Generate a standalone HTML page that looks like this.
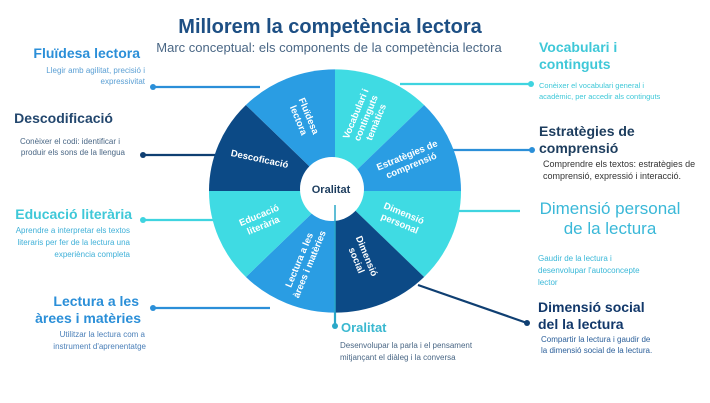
<!DOCTYPE html>
<html><head><meta charset="utf-8"><style>
body{margin:0;background:#fff;}
svg{display:block;font-family:"Liberation Sans",sans-serif;}
</style></head><body>
<svg width="710" height="403" viewBox="0 0 710 403" xmlns="http://www.w3.org/2000/svg">
<rect width="710" height="403" fill="#fff"/>
<text x="330" y="33" text-anchor="middle" font-size="20" font-weight="bold" fill="#1d4f84">Millorem la competència lectora</text>
<text x="329" y="52" text-anchor="middle" font-size="13" fill="#4a6785">Marc conceptual: els components de la competència lectora</text>

<g stroke-width="2.2">
<line x1="153" y1="87" x2="260" y2="87" stroke="#2b8fd8"/>
<line x1="143" y1="155" x2="230" y2="155" stroke="#0f3f72"/>
<line x1="143" y1="220" x2="215" y2="220" stroke="#3fd4e0"/>
<line x1="153" y1="308" x2="270" y2="308" stroke="#2b8fd8"/>
<line x1="400" y1="84" x2="531" y2="84" stroke="#3fd4e0"/>
<line x1="445" y1="150" x2="532" y2="150" stroke="#2b8fd8"/>
<line x1="455" y1="211" x2="520" y2="211" stroke="#3fd4e0"/>
<line x1="418" y1="285" x2="527" y2="323" stroke="#0f3f72"/>
<line x1="335" y1="190" x2="335" y2="326" stroke="#2aa8c8"/>
</g>
<circle cx="153" cy="87" r="3" fill="#2b8fd8"/>
<circle cx="143" cy="155" r="3" fill="#0f3f72"/>
<circle cx="143" cy="220" r="3" fill="#3fd4e0"/>
<circle cx="153" cy="308" r="3" fill="#2b8fd8"/>
<circle cx="531" cy="84" r="3" fill="#3fd4e0"/>
<circle cx="532" cy="150" r="3" fill="#2b8fd8"/>
<circle cx="527" cy="323" r="3" fill="#0f3f72"/>
<circle cx="335" cy="326" r="3" fill="#2aa8c8"/>

<g transform="translate(335 191) scale(1 0.965) translate(-335 -190)">
<path d="M335 190 L335 64 A126 126 0 0 1 424.1 100.9 Z" fill="#3fdbe3"/>
<path d="M335 190 L424.1 100.9 A126 126 0 0 1 461 190 Z" fill="#2a9de3"/>
<path d="M335 190 L461 190 A126 126 0 0 1 424.1 279.1 Z" fill="#3fdbe3"/>
<path d="M335 190 L424.1 279.1 A126 126 0 0 1 335 316 Z" fill="#0c4a86"/>
<path d="M335 190 L335 316 A126 126 0 0 1 245.9 279.1 Z" fill="#2a9de3"/>
<path d="M335 190 L245.9 279.1 A126 126 0 0 1 209 190 Z" fill="#3fdbe3"/>
<path d="M335 190 L209 190 A126 126 0 0 1 245.9 100.9 Z" fill="#0c4a86"/>
<path d="M335 190 L245.9 100.9 A126 126 0 0 1 335 64 Z" fill="#2a9de3"/>
</g>
<circle cx="332" cy="189" r="32" fill="#fff"/>
<line x1="335" y1="205" x2="335" y2="313" stroke="#2aa8c8" stroke-width="1.5"/>
<text x="331" y="193" text-anchor="middle" font-size="11" font-weight="bold" fill="#1d3d5e">Oralitat</text>

<g fill="#fff" font-size="9.5" font-weight="bold" text-anchor="middle">
<text transform="translate(304,118) rotate(67.5)"><tspan x="0" y="-2">Fluïdesa</tspan><tspan x="0" y="9">lectora</tspan></text>
<text transform="translate(366,118) rotate(-67.5)"><tspan x="0" y="-8">Vocabulari i</tspan><tspan x="0" y="3">continguts</tspan><tspan x="0" y="14">temàtics</tspan></text>
<text transform="translate(409,160) rotate(-22.5)"><tspan x="0" y="-2">Estratègies de</tspan><tspan x="0" y="9">comprensió</tspan></text>
<text transform="translate(402,218) rotate(22.5)"><tspan x="0" y="-2">Dimensió</tspan><tspan x="0" y="9">personal</tspan></text>
<text transform="translate(362,258) rotate(67.5)"><tspan x="0" y="-2">Dimensió</tspan><tspan x="0" y="9">social</tspan></text>
<text transform="translate(304,262) rotate(-67.5)"><tspan x="0" y="-2">Lectura a les</tspan><tspan x="0" y="9">àrees i matèries</tspan></text>
<text transform="translate(261,220) rotate(-22.5)"><tspan x="0" y="-2">Educació</tspan><tspan x="0" y="9">literària</tspan></text>
<text transform="translate(259,162) rotate(12)"><tspan x="0" y="0">Descoficació</tspan></text>
</g>

<text x="140" y="58" text-anchor="end" font-size="14" font-weight="bold" fill="#2b8fd8">Fluïdesa lectora</text>
<text x="145" y="73" text-anchor="end" font-size="8" fill="#5a9fd4">Llegir amb agilitat, precisió i</text>
<text x="145" y="84" text-anchor="end" font-size="8" fill="#5a9fd4">expressivitat</text>
<text x="113" y="123" text-anchor="end" font-size="14" font-weight="bold" fill="#23476e">Descodificació</text>
<text x="120" y="144" text-anchor="end" font-size="8" fill="#4a6785">Conèixer el codi: identificar i</text>
<text x="125" y="155" text-anchor="end" font-size="8" fill="#4a6785">produir els sons de la llengua</text>
<text x="132" y="219" text-anchor="end" font-size="14" font-weight="bold" fill="#3fc8d8">Educació literària</text>
<text x="130" y="233" text-anchor="end" font-size="8" fill="#3fb0d8">Aprendre a interpretar els textos</text>
<text x="130" y="245" text-anchor="end" font-size="8" fill="#3fb0d8">literaris per fer de la lectura una</text>
<text x="130" y="257" text-anchor="end" font-size="8" fill="#3fb0d8">experiència completa</text>
<text x="139" y="306" text-anchor="end" font-size="14" font-weight="bold" fill="#2b8fd8">Lectura a les</text>
<text x="141" y="323" text-anchor="end" font-size="14" font-weight="bold" fill="#2b8fd8">àrees i matèries</text>
<text x="145" y="337" text-anchor="end" font-size="8" fill="#4a7fb8">Utilitzar la lectura com a</text>
<text x="146" y="349" text-anchor="end" font-size="8" fill="#4a7fb8">instrument d'aprenentatge</text>

<text x="539" y="52" font-size="14" font-weight="bold" fill="#3fc8d8">Vocabulari i</text>
<text x="539" y="69" font-size="14" font-weight="bold" fill="#3fc8d8">continguts</text>
<text x="539" y="88" font-size="7.5" fill="#3fc8d8">Conèixer el vocabulari general i</text>
<text x="539" y="99" font-size="7.5" fill="#3fc8d8">acadèmic, per accedir als continguts</text>
<text x="539" y="136" font-size="14" font-weight="bold" fill="#1d3d5e">Estratègies de</text>
<text x="539" y="153" font-size="14" font-weight="bold" fill="#1d3d5e">comprensió</text>
<text x="543" y="167" font-size="9" fill="#333">Comprendre els textos: estratègies de</text>
<text x="543" y="179" font-size="9" fill="#333">comprensió, expressió i interacció.</text>
<text x="610" y="214" text-anchor="middle" font-size="17" fill="#3ab8d8">Dimensió personal</text>
<text x="610" y="234" text-anchor="middle" font-size="17" fill="#3ab8d8">de la lectura</text>
<text x="538" y="261" font-size="8" fill="#3ab8d8">Gaudir de la lectura i</text>
<text x="538" y="273" font-size="8" fill="#3ab8d8">desenvolupar l'autoconcepte</text>
<text x="538" y="285" font-size="8" fill="#3ab8d8">lector</text>
<text x="538" y="312" font-size="14" font-weight="bold" fill="#12386a">Dimensió social</text>
<text x="538" y="329" font-size="14" font-weight="bold" fill="#12386a">del la lectura</text>
<text x="541" y="342" font-size="8" fill="#2b5f9a">Compartir la lectura i gaudir de</text>
<text x="541" y="353" font-size="8" fill="#2b5f9a">la dimensió social de la lectura.</text>

<text x="341" y="332" font-size="13" font-weight="bold" fill="#3ab8d0">Oralitat</text>
<text x="340" y="348" font-size="8" fill="#4a6785">Desenvolupar la parla i el pensament</text>
<text x="340" y="360" font-size="8" fill="#4a6785">mitjançant el diàleg i la conversa</text>
</svg>
</body></html>
